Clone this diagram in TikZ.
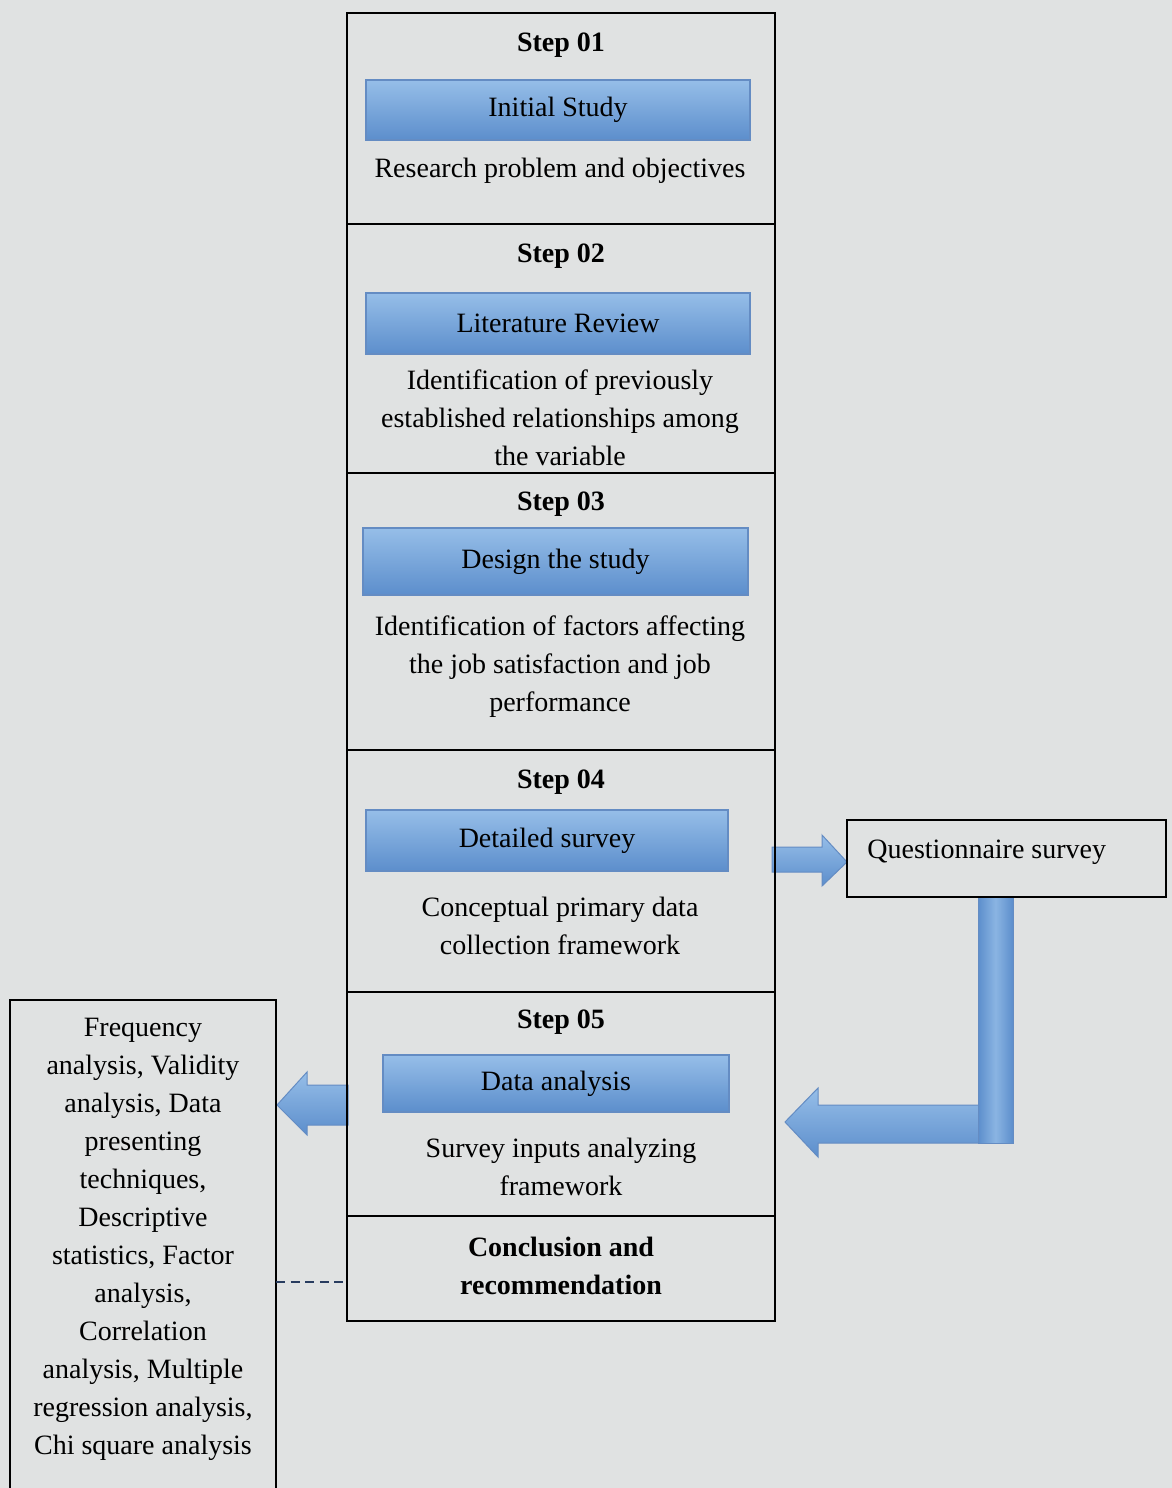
\documentclass[tikz,border=0pt]{standalone}
\usepackage{fontspec}
\setmainfont{Liberation Serif}
\definecolor{bg}{RGB}{224,226,226}
\definecolor{bartop}{RGB}{150,190,232}
\definecolor{barbot}{RGB}{92,142,204}
\definecolor{baredge}{RGB}{100,140,195}
\definecolor{dashcol}{RGB}{40,60,95}
\tikzset{
  txt/.style={font=\fontsize{14}{19}\selectfont, inner sep=0pt, align=center, text=black},
  boldtxt/.style={txt, font=\fontsize{14}{19}\selectfont\bfseries},
  section/.style={draw=black, line width=1pt, rectangle, minimum width=214pt, inner sep=0pt, outer sep=0pt},
  bar/.style={draw=baredge, line width=0.6pt, rectangle, inner sep=0pt, top color=bartop, bottom color=barbot,
    font=\fontsize{14}{19}\selectfont, text=black},
  blockarrow/.style={draw=baredge, line width=0.5pt, top color=bartop, bottom color=barbot},
  plainbox/.style={draw=black, line width=0.8pt, rectangle, inner sep=0pt, outer sep=0pt},
}
\begin{document}
\begin{tikzpicture}[x=0.5pt,y=-0.5pt]
\useasboundingbox (0,0) rectangle (1172,1488);
\fill[bg] (0,0) rectangle (1172,1488);
\clip (0,0) rectangle (1172,1488);

% block arrows (drawn first, under the box borders)
% step 04 -> questionnaire
\shadedraw[blockarrow] (772,847) -- (822,847) -- (822,835) -- (847,862) -- (822,886) -- (822,872) -- (772,872) -- cycle;
% questionnaire -> step 05 (elbow)
\shadedraw[blockarrow] (990,1105) -- (818,1105) -- (818,1088) -- (785,1122) -- (818,1157) -- (818,1143) -- (990,1143) -- cycle;
\shadedraw[draw=baredge, line width=0.5pt, left color=barbot, right color=barbot, middle color=bartop!80!barbot] (978,897) rectangle (1013,1143);
% step 05 -> left box
\shadedraw[blockarrow] (348,1085) -- (307,1085) -- (307,1072) -- (277,1105) -- (307,1135) -- (307,1125) -- (348,1125) -- cycle;

% main column sections
\node[section, minimum height=105.5pt] (s1) at (561,118.5) {};
\node[section, minimum height=124.5pt] (s2) at (561,348.5) {};
\node[section, minimum height=138.5pt] (s3) at (561,611.5) {};
\node[section, minimum height=121pt]   (s4) at (561,871) {};
\node[section, minimum height=112pt]   (s5) at (561,1104) {};
\node[section, minimum height=52.5pt]  (s6) at (561,1268.5) {};

% step labels
\node[boldtxt] (l1) at (561,45) {Step 01};
\node[boldtxt] (l2) at (561,256) {Step 02};
\node[boldtxt] (l3) at (561,504) {Step 03};
\node[boldtxt] (l4) at (561,782) {Step 04};
\node[boldtxt] (l5) at (561,1022) {Step 05};

% blue bars
\node[bar, minimum width=192pt, minimum height=30pt] (b1) at (558,110) {Initial Study};
\node[bar, minimum width=192pt, minimum height=30.5pt] (b2) at (558,323.5) {Literature Review};
\node[bar, minimum width=192.5pt, minimum height=33.5pt] (b3) at (555.5,561.5) {Design the study};
\node[bar, minimum width=181pt, minimum height=30.5pt] (b4) at (547,840.5) {Detailed survey};
\node[bar, minimum width=173pt, minimum height=28.5pt] (b5) at (556,1083.5) {Data analysis};

% descriptions
\node[txt] (d1) at (560,171) {Research problem and objectives};
\node[txt] (d2) at (560,418) {Identification of previously\\established relationships among\\the variable};
\node[txt] (d3) at (560,667) {Identification of factors affecting\\the job satisfaction and job\\performance};
\node[txt] (d4) at (560,926) {Conceptual primary data\\collection framework};
\node[txt] (d5) at (561,1167) {Survey inputs analyzing\\framework};
\node[boldtxt] (d6) at (561,1266) {Conclusion and\\recommendation};

% questionnaire box
\node[plainbox, minimum width=159.5pt, minimum height=38.5pt] (q) at (1006.5,858.5) {};
\node[txt, anchor=west] (qt) at (867,852) {Questionnaire survey};

% left box
\node[plainbox, minimum width=133pt, minimum height=250pt] (lb) at (143,1250) {};
\node[txt] (lt) at (143,1239.5) {Frequency\\analysis, Validity\\analysis, Data\\presenting\\techniques,\\Descriptive\\statistics, Factor\\analysis,\\Correlation\\analysis, Multiple\\regression analysis,\\Chi square analysis};

% dashed connector from left box to conclusion
\coordinate (dL) at (lb.east |- 0,1282);
\coordinate (dR) at (s6.west |- 0,1282);
\draw[dashcol, line width=1.3pt, dash pattern=on 4.5pt off 2.8pt] (dL) -- (dR);
\end{tikzpicture}
\end{document}
